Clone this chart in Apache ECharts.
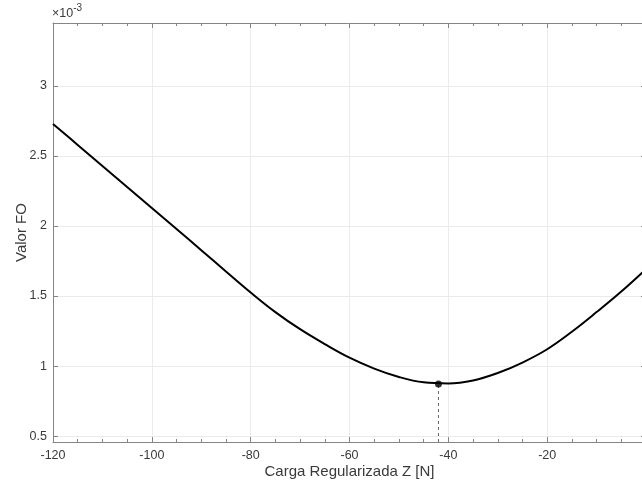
<!DOCTYPE html>
<html>
<head>
<meta charset="utf-8">
<script src="https://cdn.jsdelivr.net/npm/echarts@6/dist/echarts.min.js"></script>
<style>
  html, body { margin: 0; padding: 0; background: #fff; }
  #chart { width: 642px; height: 482px; }
</style>
</head>
<body>
<div id="chart"></div>
<script>
// values, y in units of 1e-3
var zValues = [-120, -115, -110, -105, -100, -95, -90, -85, -80, -75, -70, -65, -60, -55, -50, -45, -40, -35, -30, -25, -20, -15, -10, -5, 0];
var foValues = [2.728, 2.578, 2.428, 2.278, 2.128, 1.978, 1.827, 1.675, 1.525, 1.385, 1.263, 1.157, 1.060, 0.982, 0.922, 0.884, 0.876, 0.897, 0.950, 1.025, 1.120, 1.245, 1.385, 1.532, 1.692];
var minZ = [-42];
var minFO = [0.872];

var X_MIN = -120, X_MAX = 0, X_STEP = 20;
var Y_MIN = 0.458, Y_MAX = 3.448;

var AXIS_COLOR = '#858585';
var TEXT_COLOR = '#3a3a3a';
var GRID_COLOR = '#ebebeb';
var FONT = '"Liberation Sans", Arial, sans-serif';

var curve = [];
for (var i = 0; i < zValues.length; i++) {
    curve.push([zValues[i], foValues[i]]);
}

function yLabel(v) {
    var r = Math.round(v * 2) / 2;
    if (Math.abs(r - v) > 1e-6) return '';
    return String(r);
}

function xAxisBase(pos, showLabels) {
    return {
        type: 'value',
        position: pos,
        min: X_MIN,
        max: X_MAX,
        interval: X_STEP,
        axisLine: { show: true, onZero: false, lineStyle: { color: AXIS_COLOR, width: 1 } },
        axisTick: { show: true, inside: true, length: 5, lineStyle: { color: AXIS_COLOR } },
        minorTick: { show: true, splitNumber: 4, length: 3, lineStyle: { color: AXIS_COLOR } },
        axisLabel: {
            show: showLabels,
            color: TEXT_COLOR,
            fontFamily: FONT,
            fontSize: 12.5,
            margin: 7
        },
        splitLine: { show: showLabels, lineStyle: { color: GRID_COLOR, width: 1 } }
    };
}

function yAxisBase(pos, showLabels) {
    return {
        type: 'value',
        position: pos,
        min: Y_MIN,
        max: Y_MAX,
        splitNumber: 5,
        axisLine: { show: true, onZero: false, lineStyle: { color: AXIS_COLOR, width: 1 } },
        axisTick: { show: true, inside: true, length: 5, lineStyle: { color: AXIS_COLOR } },
        axisLabel: {
            show: showLabels,
            showMinLabel: false,
            showMaxLabel: false,
            color: TEXT_COLOR,
            fontFamily: FONT,
            fontSize: 12.5,
            margin: 6,
            formatter: yLabel
        },
        splitLine: { show: showLabels, lineStyle: { color: GRID_COLOR, width: 1 } }
    };
}

var xBottom = xAxisBase('bottom', true);
xBottom.name = 'Carga Regularizada Z [N]';
xBottom.nameLocation = 'middle';
xBottom.nameGap = 22;
xBottom.nameMoveOverlap = false;
xBottom.nameTextStyle = { color: TEXT_COLOR, fontFamily: FONT, fontSize: 15, verticalAlign: 'top' };

var yLeft = yAxisBase('left', true);
yLeft.name = 'Valor FO';
yLeft.nameLocation = 'middle';
yLeft.nameGap = 24;
yLeft.nameRotate = 90;
yLeft.nameMoveOverlap = false;
yLeft.nameTextStyle = { color: TEXT_COLOR, fontFamily: FONT, fontSize: 15, verticalAlign: 'bottom' };

var chart = echarts.init(document.getElementById('chart'), null, { renderer: 'canvas' });

chart.setOption({
    backgroundColor: '#ffffff',
    animation: false,
    grid: {
        left: 53,
        top: 23,
        right: -4,
        bottom: 40,
        containLabel: false,
        outerBoundsMode: 'none'
    },
    xAxis: [xBottom, xAxisBase('top', false)],
    yAxis: [yLeft, yAxisBase('right', false)],
    graphic: [
        {
            type: 'text',
            left: 52,
            top: 3,
            style: {
                text: '{a|×10}{b|-3}',
                rich: {
                    a: { fontSize: 12.5, fontFamily: FONT, fill: TEXT_COLOR, padding: [7, 0, 0, 0] },
                    b: { fontSize: 10, fontFamily: FONT, fill: TEXT_COLOR, padding: [0, 0, 5, 0] }
                }
            }
        }
    ],
    series: [
        {
            type: 'line',
            xAxisIndex: 0,
            yAxisIndex: 0,
            data: [[minZ[0], Y_MIN], [minZ[0], minFO[0]]],
            symbol: 'none',
            lineStyle: { color: '#666666', width: 1, type: [3, 3] },
            z: 2
        },
        {
            type: 'line',
            xAxisIndex: 0,
            yAxisIndex: 0,
            data: curve,
            smooth: 0.4,
            symbol: 'none',
            lineStyle: { color: '#000000', width: 2 },
            z: 3
        },
        {
            type: 'scatter',
            xAxisIndex: 0,
            yAxisIndex: 0,
            data: [[minZ[0], minFO[0]]],
            symbol: 'circle',
            symbolSize: 7,
            itemStyle: { color: '#000000' },
            z: 4
        }
    ]
});
</script>
</body>
</html>
